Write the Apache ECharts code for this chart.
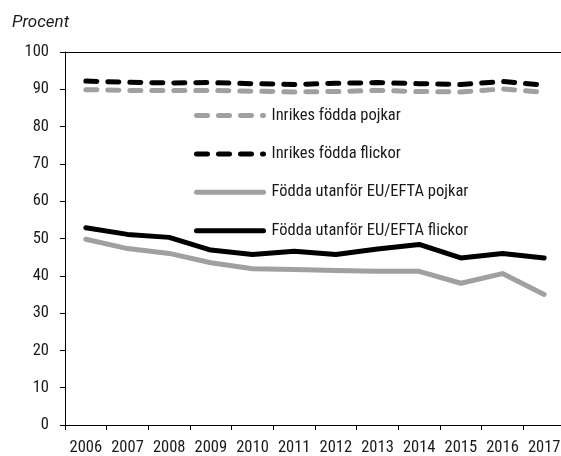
<!DOCTYPE html>
<html>
<head>
<meta charset="utf-8">
<script src="https://cdn.jsdelivr.net/npm/echarts@6/dist/echarts.min.js"></script>
<style>
  html, body { margin: 0; padding: 0; background: #fff; overflow: hidden; }
  /* a bit wider than the window: the last category is cut off at the right edge */
  #chart { width: 567px; height: 456px; }
</style>
</head>
<body>
<div id="chart"></div>
<script>
const years = ['2006', '2007', '2008', '2009', '2010', '2011', '2012', '2013', '2014', '2015', '2016', '2017']
const inrikesPojkar = [89.9, 89.7, 89.7, 89.7, 89.5, 89.3, 89.4, 89.7, 89.4, 89.3, 90.1, 89.2]
const inrikesFlickor = [92.2, 91.9, 91.7, 91.8, 91.5, 91.3, 91.6, 91.8, 91.5, 91.3, 92.1, 91.1]
const utanforPojkar = [49.8, 47.3, 46.0, 43.5, 41.9, 41.7, 41.4, 41.2, 41.2, 38.0, 40.6, 35.0]
const utanforFlickor = [52.9, 51.1, 50.3, 46.9, 45.7, 46.6, 45.7, 47.2, 48.4, 44.8, 46.0, 44.8]
const seriesNames = ['Inrikes födda pojkar', 'Inrikes födda flickor', 'Födda utanför EU/EFTA pojkar', 'Födda utanför EU/EFTA flickor']

// font-stretch goes in through fontWeight, echarts puts it before the size in the font string
const font = 'Roboto'
const narrow = 'condensed'
const textColor = '#1a1a1a'
const grey = '#a0a0a0'
const black = '#000'

const chart = echarts.init(document.getElementById('chart'), null, { renderer: 'canvas' })

function lineSeries(name, data, color, dashed) {
  return {
    name: name,
    type: 'line',
    data: data,
    symbol: 'none',
    lineStyle: {
      color: color,
      width: 5,
      type: dashed ? [11, 11] : 'solid',
      cap: 'round',
      join: 'round'
    },
    itemStyle: { color: color }
  }
}

chart.setOption({
  animation: false,
  title: {
    text: 'Procent',
    left: 7,
    top: 9,
    textStyle: { fontFamily: font, fontSize: 17, fontStyle: 'italic', fontWeight: 'normal', color: textColor }
  },
  grid: { left: 65, top: 52, width: 500, height: 374 },
  legend: {
    orient: 'vertical',
    left: 189,
    top: 102,
    itemWidth: 67,
    itemHeight: 14,
    itemGap: 21.4,
    data: seriesNames,
    itemStyle: { opacity: 0 },
    lineStyle: { width: 5 },
    textStyle: { fontFamily: font, fontWeight: narrow, fontSize: 16.5, color: textColor, padding: [0, 0, 0, 3] }
  },
  xAxis: [
    {
      type: 'category',
      data: years,
      boundaryGap: true,
      axisLine: { lineStyle: { color: '#000', width: 1 } },
      axisTick: { show: true, length: 5, lineStyle: { color: '#000' } },
      axisLabel: { fontFamily: font, fontWeight: narrow, fontSize: 16.5, color: textColor, margin: 14, interval: 0 },
      splitLine: { show: false }
    },
    {
      type: 'category',
      data: years,
      position: 'top',
      axisLine: { lineStyle: { color: '#000', width: 1 } },
      axisTick: { show: false },
      axisLabel: { show: false },
      splitLine: { show: false }
    }
  ],
  yAxis: {
    type: 'value',
    min: 0,
    max: 100,
    interval: 10,
    axisLine: { show: true, lineStyle: { color: '#000', width: 1 } },
    axisTick: { show: true, length: 5, lineStyle: { color: '#000' } },
    axisLabel: { fontFamily: font, fontWeight: narrow, fontSize: 16.5, color: textColor, margin: 16 },
    splitLine: { show: false }
  },
  series: [
    lineSeries(seriesNames[0], inrikesPojkar, grey, true),
    lineSeries(seriesNames[1], inrikesFlickor, black, true),
    lineSeries(seriesNames[2], utanforPojkar, grey, false),
    lineSeries(seriesNames[3], utanforFlickor, black, false)
  ]
})
</script>
</body>
</html>
